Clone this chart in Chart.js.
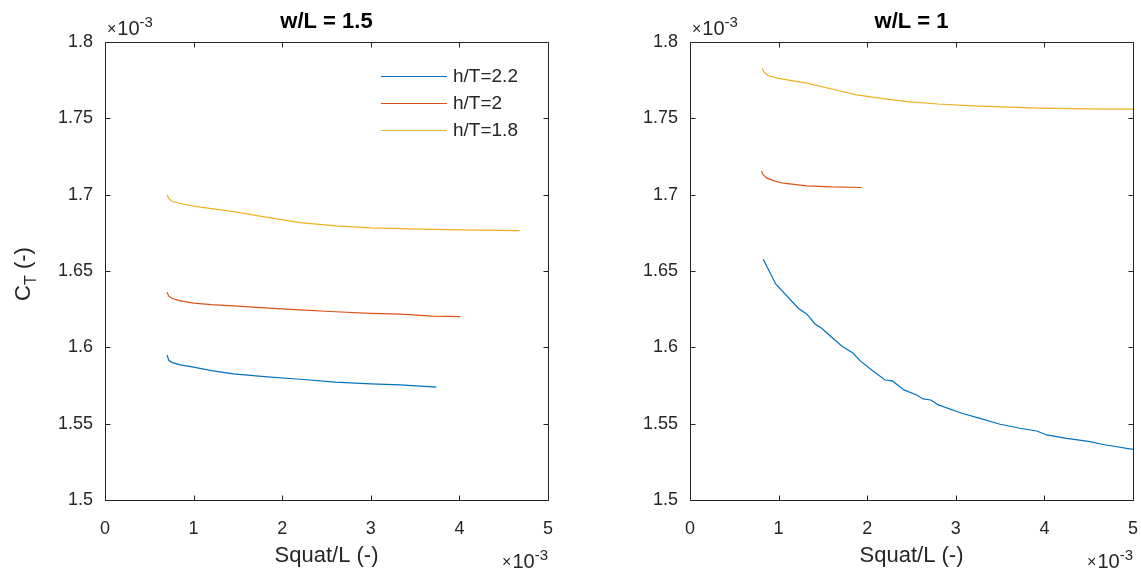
<!DOCTYPE html>
<html>
<head>
<meta charset="utf-8">
<script src="https://cdn.jsdelivr.net/npm/chart.js@4/dist/chart.umd.min.js"></script>
<style>
  html, body { margin: 0; padding: 0; background: #fff; }
  #wrap { position: relative; width: 1141px; height: 573px; }
  canvas { position: absolute; top: 0; }
  #left { left: 0; }
  #right { left: 570px; }
</style>
</head>
<body>
<div id="wrap">
  <canvas id="left" width="570" height="573"></canvas>
  <canvas id="right" width="571" height="573"></canvas>
</div>
<script>
// values in units of 1e-3 (squat/L on x, C_T on y)
const seriesLabels = ['h/T=2.2', 'h/T=2', 'h/T=1.8'];
const seriesColors = ['#0072BD', '#D95319', '#EDB120'];
const xTicks = [0, 1, 2, 3, 4, 5];
const yTicks = [1.5, 1.55, 1.6, 1.65, 1.7, 1.75, 1.8];

// w/L = 1.5
const wl15_h22_x = [0.70, 0.72, 0.76, 0.85, 1.0, 1.2, 1.45, 1.8, 2.2, 2.6, 3.0, 3.33, 3.74];
const wl15_h22_y = [1.595, 1.5915, 1.590, 1.5885, 1.587, 1.5848, 1.5826, 1.5808, 1.5791, 1.5772, 1.576, 1.5754, 1.5739];
const wl15_h20_x = [0.70, 0.72, 0.76, 0.85, 1.0, 1.2, 1.45, 1.8, 2.2, 2.6, 3.0, 3.33, 3.7, 4.01];
const wl15_h20_y = [1.6361, 1.6335, 1.632, 1.6304, 1.629, 1.628, 1.6271, 1.6258, 1.6245, 1.6233, 1.6223, 1.6217, 1.6205, 1.6201];
const wl15_h18_x = [0.70, 0.72, 0.76, 0.85, 1.0, 1.2, 1.45, 1.8, 2.2, 2.6, 3.0, 3.33, 3.7, 4.2, 4.68];
const wl15_h18_y = [1.700, 1.6975, 1.6955, 1.6942, 1.6925, 1.6908, 1.6889, 1.6855, 1.6817, 1.6795, 1.6783, 1.6778, 1.6772, 1.6768, 1.6765];

// w/L = 1
const wl10_h22_x = [0.827, 0.967, 1.222, 1.317, 1.411, 1.486, 1.599, 1.712, 1.843, 1.919, 2.051, 2.201, 2.284, 2.415, 2.558, 2.633, 2.717, 2.803, 3.067, 3.273, 3.499, 3.725, 3.913, 4.026, 4.252, 4.515, 4.647, 5.0];
const wl10_h22_y = [1.6577, 1.6415, 1.6256, 1.6219, 1.6153, 1.6125, 1.6066, 1.6009, 1.5961, 1.5913, 1.5852, 1.5786, 1.578, 1.5721, 1.5688, 1.5662, 1.5655, 1.5623, 1.5568, 1.5535, 1.5496, 1.547, 1.5452, 1.5426, 1.5404, 1.5382, 1.5365, 1.5332];
const wl10_h20_x = [0.809, 0.82, 0.866, 0.95, 1.053, 1.317, 1.6, 1.938];
const wl10_h20_y = [1.7156, 1.7135, 1.7108, 1.709, 1.7075, 1.7058, 1.7051, 1.7047];
const wl10_h18_x = [0.816, 0.83, 0.86, 0.884, 1.0, 1.317, 1.6, 1.881, 2.2, 2.446, 2.8, 3.198, 3.6, 3.95, 4.5, 5.0];
const wl10_h18_y = [1.7829, 1.7805, 1.779, 1.7779, 1.7762, 1.7731, 1.7692, 1.7654, 1.7628, 1.761, 1.7594, 1.7582, 1.7573, 1.7567, 1.7562, 1.756];

const FONT = '"Liberation Sans", Arial, Helvetica, sans-serif';
const TXT = '#262626';

function pts(xs, ys) {
  return xs.map((x, i) => ({ x: x, y: ys[i] }));
}

function makeDatasets(pairs) {
  return pairs.map((p, i) => ({
    label: seriesLabels[i],
    data: pts(p[0], p[1]),
    borderColor: seriesColors[i],
    borderWidth: 1.2,
    pointRadius: 0,
    fill: false,
    tension: 0
  }));
}

// draws the matlab-style box, inward ticks, exponent labels, titles, legend
const matlabAxes = {
  id: 'matlabAxes',
  afterDraw(chart, args, opts) {
    const ctx = chart.ctx;
    const a = chart.chartArea;
    const xs = chart.scales.x, ys = chart.scales.y;
    ctx.save();
    ctx.strokeStyle = TXT;
    ctx.lineWidth = 1;
    const L = Math.round(a.left) + 0.5, R = Math.round(a.right) + 0.5;
    const T = Math.round(a.top) + 0.5, B = Math.round(a.bottom) + 0.5;
    ctx.beginPath();
    ctx.rect(L, T, R - L, B - T);
    xTicks.forEach(v => {
      const px = Math.round(xs.getPixelForValue(v)) + 0.5;
      ctx.moveTo(px, B); ctx.lineTo(px, B - 5);
      ctx.moveTo(px, T); ctx.lineTo(px, T + 5);
    });
    yTicks.forEach(v => {
      const py = Math.round(ys.getPixelForValue(v)) + 0.5;
      ctx.moveTo(L, py); ctx.lineTo(L + 5, py);
      ctx.moveTo(R, py); ctx.lineTo(R - 5, py);
    });
    ctx.stroke();

    // title
    const cx = (a.left + a.right) / 2;
    ctx.fillStyle = '#000';
    ctx.font = 'bold 22px ' + FONT;
    ctx.textAlign = 'center';
    ctx.textBaseline = 'alphabetic';
    ctx.fillText(opts.title, cx, 28);

    // exponent labels
    function expo(x, base, alignRight) {
      ctx.fillStyle = TXT;
      ctx.textAlign = 'left';
      ctx.font = '16px ' + FONT;
      const w1 = ctx.measureText('\u00d7').width;
      ctx.font = '20px ' + FONT;
      const w2 = ctx.measureText('10').width;
      ctx.font = '15px ' + FONT;
      const w3 = ctx.measureText('-3').width;
      let sx = alignRight ? x - (w1 + w2 + w3 + 1) : x;
      ctx.font = '16px ' + FONT;
      ctx.fillText('\u00d7', sx, base - 1);
      ctx.font = '20px ' + FONT;
      ctx.fillText('10', sx + w1 + 1, base);
      ctx.font = '15px ' + FONT;
      ctx.fillText('-3', sx + w1 + 1 + w2, base - 8);
    }
    expo(a.left + 2, 35, false);
    expo(a.right, 568, true);

    // x label
    ctx.fillStyle = TXT;
    ctx.font = '22px ' + FONT;
    ctx.textAlign = 'center';
    ctx.fillText('Squat/L (-)', cx, 562);

    // y label with subscript
    if (opts.ylabel) {
      ctx.save();
      ctx.translate(30, 274);
      ctx.rotate(-Math.PI / 2);
      ctx.textAlign = 'left';
      ctx.font = '22px ' + FONT;
      const wc = ctx.measureText('C').width;
      const wr = ctx.measureText(' (-)').width;
      ctx.font = '16px ' + FONT;
      const wt = ctx.measureText('T').width;
      const sx = -(wc + wt + wr) / 2;
      ctx.font = '22px ' + FONT;
      ctx.fillText('C', sx, 0);
      ctx.font = '16px ' + FONT;
      ctx.fillText('T', sx + wc, 6);
      ctx.font = '22px ' + FONT;
      ctx.fillText(' (-)', sx + wc + wt, 0);
      ctx.restore();
    }

    // legend
    if (opts.legend) {
      ctx.font = '19px ' + FONT;
      ctx.textAlign = 'left';
      ctx.textBaseline = 'middle';
      chart.data.datasets.forEach((ds, i) => {
        const ly = Math.round(opts.legend.y + i * opts.legend.dy) + 0.5;
        ctx.strokeStyle = ds.borderColor;
        ctx.lineWidth = 1.2;
        ctx.beginPath();
        ctx.moveTo(opts.legend.x, ly);
        ctx.lineTo(opts.legend.x + 66, ly);
        ctx.stroke();
        ctx.fillStyle = TXT;
        ctx.fillText(ds.label, opts.legend.x + 72, ly);
      });
    }
    ctx.restore();
  }
};

function makeOptions(title, padRight, yWidth, showY, legend) {
  const tickFont = { family: FONT, size: 18 };
  return {
    responsive: false,
    animation: false,
    layout: { padding: { left: 0, right: padRight, top: 42, bottom: 0 } },
    scales: {
      x: {
        type: 'linear', min: 0, max: 5,
        afterBuildTicks: s => { s.ticks = xTicks.map(v => ({ value: v })); },
        ticks: { color: TXT, font: tickFont, padding: 18, maxRotation: 0, callback: v => String(v) },
        grid: { display: false, drawTicks: false },
        border: { display: false },
        afterFit: s => { s.height = 73; s.paddingLeft = 0; s.paddingRight = 0; }
      },
      y: {
        type: 'linear', min: 1.5, max: 1.8,
        afterBuildTicks: s => { s.ticks = yTicks.map(v => ({ value: v })); },
        ticks: { color: TXT, font: tickFont, padding: 12, callback: v => String(+v.toFixed(2)) },
        grid: { display: false, drawTicks: false },
        border: { display: false },
        afterFit: s => { s.width = yWidth; s.paddingTop = 0; s.paddingBottom = 0; }
      }
    },
    plugins: {
      legend: { display: false },
      tooltip: { enabled: false },
      matlabAxes: { title: title, ylabel: showY, legend: legend }
    }
  };
}

new Chart(document.getElementById('left'), {
  type: 'line',
  data: {
    datasets: makeDatasets([[wl15_h22_x, wl15_h22_y], [wl15_h20_x, wl15_h20_y], [wl15_h18_x, wl15_h18_y]])
  },
  options: makeOptions('w/L = 1.5', 22, 105, true, { x: 381, y: 76, dy: 27 }),
  plugins: [matlabAxes]
});

new Chart(document.getElementById('right'), {
  type: 'line',
  data: {
    datasets: makeDatasets([[wl10_h22_x, wl10_h22_y], [wl10_h20_x, wl10_h20_y], [wl10_h18_x, wl10_h18_y]])
  },
  options: makeOptions('w/L = 1', 8, 120, false, null),
  plugins: [matlabAxes]
});
</script>
</body>
</html>
